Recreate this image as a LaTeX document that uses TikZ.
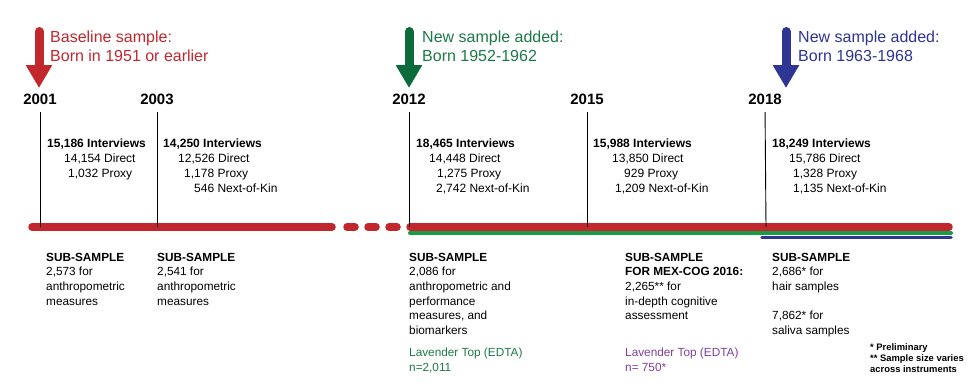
\documentclass[tikz,border=0pt]{standalone}
\usepackage{fontspec}
\setmainfont{Liberation Sans}
\usetikzlibrary{arrows.meta}
\definecolor{wavered}{HTML}{C1272D}
\definecolor{wavegreen}{HTML}{0B6B3A}
\definecolor{textgreen}{HTML}{1C7A47}
\definecolor{bandgreen}{HTML}{179C48}
\definecolor{waveblue}{HTML}{2E3592}
\definecolor{lavpurple}{HTML}{7E3F9E}
\newcommand{\fs}[2]{\fontsize{#1}{#2}\selectfont}

\begin{document}
\begin{tikzpicture}[x=1pt,y=-1pt,
  year/.style={font=\fs{15}{18}\bfseries, inner sep=0pt},
  tick/.style={black, line width=0.9pt, shorten <=7.5pt},
  info/.style={anchor=north west, inner sep=0pt, align=left, font=\fs{12}{15}},
  sub/.style={anchor=north west, inner sep=0pt, align=left, font=\fs{11.8}{14.6}},
  note/.style={anchor=north west, inner sep=0pt, align=left, font=\fs{9.4}{11}\bfseries},
  cohort/.style={line width=9pt, line cap=round, -{Triangle[length=23pt,width=25pt]}},
  cohorttext/.style={anchor=north west, inner sep=0pt, align=left, font=\fs{16}{18.5}},
  band/.style={line cap=round}]
  \useasboundingbox (0,0) rectangle (970,391);

  % cohorts entering the study
  \coordinate (redtop) at (39,31.5);   \coordinate (redtip) at (39,88);
  \coordinate (greentop) at (409,31.5); \coordinate (greentip) at (409,88);
  \coordinate (bluetop) at (786,31.5);  \coordinate (bluetip) at (786,88);
  \draw[cohort, wavered] (redtop) -- (redtip);
  \draw[cohort, wavegreen] (greentop) -- (greentip);
  \draw[cohort, waveblue] (bluetop) -- (bluetip);
  \node[cohorttext, wavered] (c2001) at (50,31) {Baseline sample:\\Born in 1951 or earlier};
  \node[cohorttext, textgreen] (c2012) at (422,31) {New sample added:\\Born 1952-1962};
  \node[cohorttext, waveblue] (c2018) at (798,31) {New sample added:\\Born 1963-1968};

  % years
  \node[year] (y2001) at (40,99) {2001};
  \node[year] (y2003) at (157,99) {2003};
  \node[year] (y2012) at (409,99) {2012};
  \node[year] (y2015) at (587,99) {2015};
  \node[year] (y2018) at (765,99) {2018};

  % timeline bands
  \draw[band, wavered, line width=7.5pt] (32,227) -- (332,227);
  \draw[band, wavered, line width=7.5pt, dash pattern=on 8pt off 13pt] (347,227) -- (397,227);
  \draw[band, wavered, line width=7.5pt] (410,227) -- (949,227);
  \draw[band, bandgreen, line width=4pt] (410,233) -- (951,233);
  \draw[band, waveblue, line width=3.5pt] (762,237.5) -- (951,237.5);

  \coordinate (t2001) at (40,227);
  \coordinate (t2003) at (157,227);
  \coordinate (t2012) at (409,227);
  \coordinate (t2015) at (587,227);
  \coordinate (t2018) at (766,227);
  \foreach \yr in {2001,2003,2012,2015,2018}
    \draw[tick] (y\yr.south) -- (t\yr);

  % interviews
  \node[info] (i2001) at (47,138.7) {\textbf{15,186 Interviews}\\\hspace*{17pt}14,154 Direct\\\hspace*{21pt}1,032 Proxy};
  \node[info] (i2003) at (163,138.7) {\textbf{14,250 Interviews}\\\hspace*{15pt}12,526 Direct\\\hspace*{21pt}1,178 Proxy\\\hspace*{31pt}546 Next-of-Kin};
  \node[info] (i2012) at (416,138.7) {\textbf{18,465 Interviews}\\\hspace*{13pt}14,448 Direct\\\hspace*{21pt}1,275 Proxy\\\hspace*{20pt}2,742 Next-of-Kin};
  \node[info] (i2015) at (593,138.7) {\textbf{15,988 Interviews}\\\hspace*{19pt}13,850 Direct\\\hspace*{31pt}929 Proxy\\\hspace*{22pt}1,209 Next-of-Kin};
  \node[info] (i2018) at (772,138.7) {\textbf{18,249 Interviews}\\\hspace*{17pt}15,786 Direct\\\hspace*{21pt}1,328 Proxy\\\hspace*{21pt}1,135 Next-of-Kin};

  % sub-samples
  \node[sub] (s2001) at (46,252.8) {\textbf{SUB-SAMPLE}\\2,573 for\\anthropometric\\measures};
  \node[sub] (s2003) at (157,252.8) {\textbf{SUB-SAMPLE}\\2,541 for\\anthropometric\\measures};
  \node[sub] (s2012) at (409,252.8) {\textbf{SUB-SAMPLE}\\2,086 for\\anthropometric and\\performance\\measures, and\\biomarkers};
  \node[sub] (s2015) at (625,252.8) {\textbf{SUB-SAMPLE}\\\textbf{FOR MEX-COG 2016:}\\2,265** for\\in-depth cognitive\\assessment};
  \node[sub] (s2018) at (772,252.8) {\textbf{SUB-SAMPLE}\\2,686* for\\hair samples\\[14.6pt]7,862* for\\saliva samples};
  \node[sub, textgreen] (l2012) at (409,347.8) {Lavender Top (EDTA)\\n=2,011};
  \node[sub, lavpurple] (l2015) at (625,347.8) {Lavender Top (EDTA)\\n= 750*};
  \node[note] (notes) at (870,343.7) {* Preliminary\\** Sample size varies\\across instruments};
\end{tikzpicture}
\end{document}
